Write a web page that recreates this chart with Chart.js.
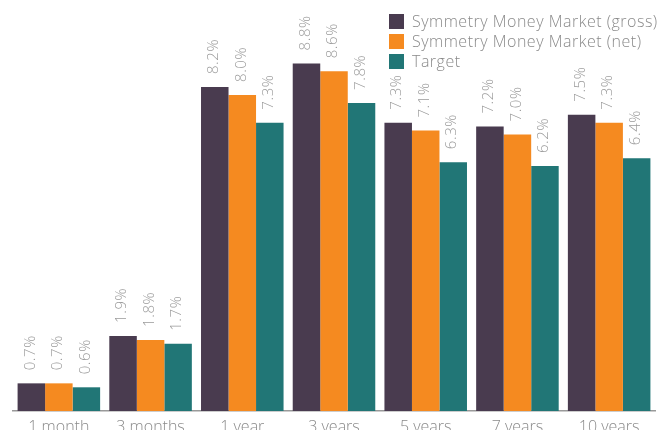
<!DOCTYPE html>
<html>
<head>
<meta charset="utf-8">
<script src="https://cdn.jsdelivr.net/npm/chart.js@4/dist/chart.umd.min.js"></script>
<style>
  html, body { margin: 0; padding: 0; background: #ffffff; overflow: hidden; }
  #wrap { position: relative; width: 659px; height: 435px; }
  #legend { position: absolute; left: 389px; top: 11px; font-family: "Open Sans", sans-serif; font-weight: 300; font-size: 16px; letter-spacing: 0.5px; color: #8a8a8a; }
  .item { display: flex; align-items: center; height: 20px; white-space: nowrap; }
  .box { width: 15px; height: 15px; margin-right: 8px; flex: none; }
</style>
</head>
<body>
<div id="wrap">
  <canvas id="c" width="659" height="435"></canvas>
  <div id="legend"></div>
</div>
<script>
const categories = ["1 month", "3 months", "1 year", "3 years", "5 years", "7 years", "10 years"];
const seriesNames = ["Symmetry Money Market (gross)", "Symmetry Money Market (net)", "Target"];
const grossValues = [0.7, 1.9, 8.2, 8.8, 7.3, 7.2, 7.5];
const netValues = [0.7, 1.8, 8.0, 8.6, 7.1, 7.0, 7.3];
const targetValues = [0.6, 1.7, 7.3, 7.8, 6.3, 6.2, 6.4];
const seriesColors = ["#493b4f", "#f58a20", "#217676"];

const textFont = '"Open Sans", sans-serif';
const seriesValues = [grossValues, netValues, targetValues];

const valueLabels = {
  id: 'valueLabels',
  afterDatasetsDraw(chart) {
    const ctx = chart.ctx;
    ctx.save();
    ctx.fillStyle = '#9a9a9a';
    ctx.font = '300 15px ' + textFont;
    try { ctx.letterSpacing = '0.6px'; } catch (e) {}
    ctx.textAlign = 'left';
    ctx.textBaseline = 'middle';
    chart.data.datasets.forEach((ds, di) => {
      const meta = chart.getDatasetMeta(di);
      meta.data.forEach((el, i) => {
        ctx.save();
        ctx.translate(el.x - 1, el.y - 13);
        ctx.rotate(-Math.PI / 2);
        ctx.fillText(ds.data[i].toFixed(1) + '%', 0, 0);
        ctx.restore();
      });
    });
    ctx.restore();
  }
};

const legendEl = document.getElementById('legend');
seriesNames.forEach((n, i) => {
  const d = document.createElement('div');
  d.className = 'item';
  d.innerHTML = '<span class="box" style="background:' + seriesColors[i] + '"></span><span>' + n + '</span>';
  legendEl.appendChild(d);
});

new Chart(document.getElementById('c'), {
  type: 'bar',
  data: {
    labels: categories,
    datasets: seriesNames.map((n, i) => ({
      label: n,
      data: seriesValues[i],
      backgroundColor: seriesColors[i],
      borderWidth: 0,
      categoryPercentage: 0.9,
      barPercentage: 1.0
    }))
  },
  options: {
    responsive: false,
    animation: false,
    devicePixelRatio: 1,
    layout: { padding: { left: 13, right: 4, top: 16, bottom: 0 } },
    plugins: { legend: { display: false }, tooltip: { enabled: false } },
    scales: {
      y: { display: false, min: 0, max: 10 },
      x: {
        grid: { display: false, drawTicks: false },
        border: { display: true, color: '#9a9a9a', width: 1.5 },
        ticks: { color: '#8a8a8a', font: { family: textFont, size: 16, weight: 300 }, padding: 7 },
        afterFit(scale) { scale.height = 24; }
      }
    }
  },
  plugins: [valueLabels]
});
</script>
</body>
</html>
